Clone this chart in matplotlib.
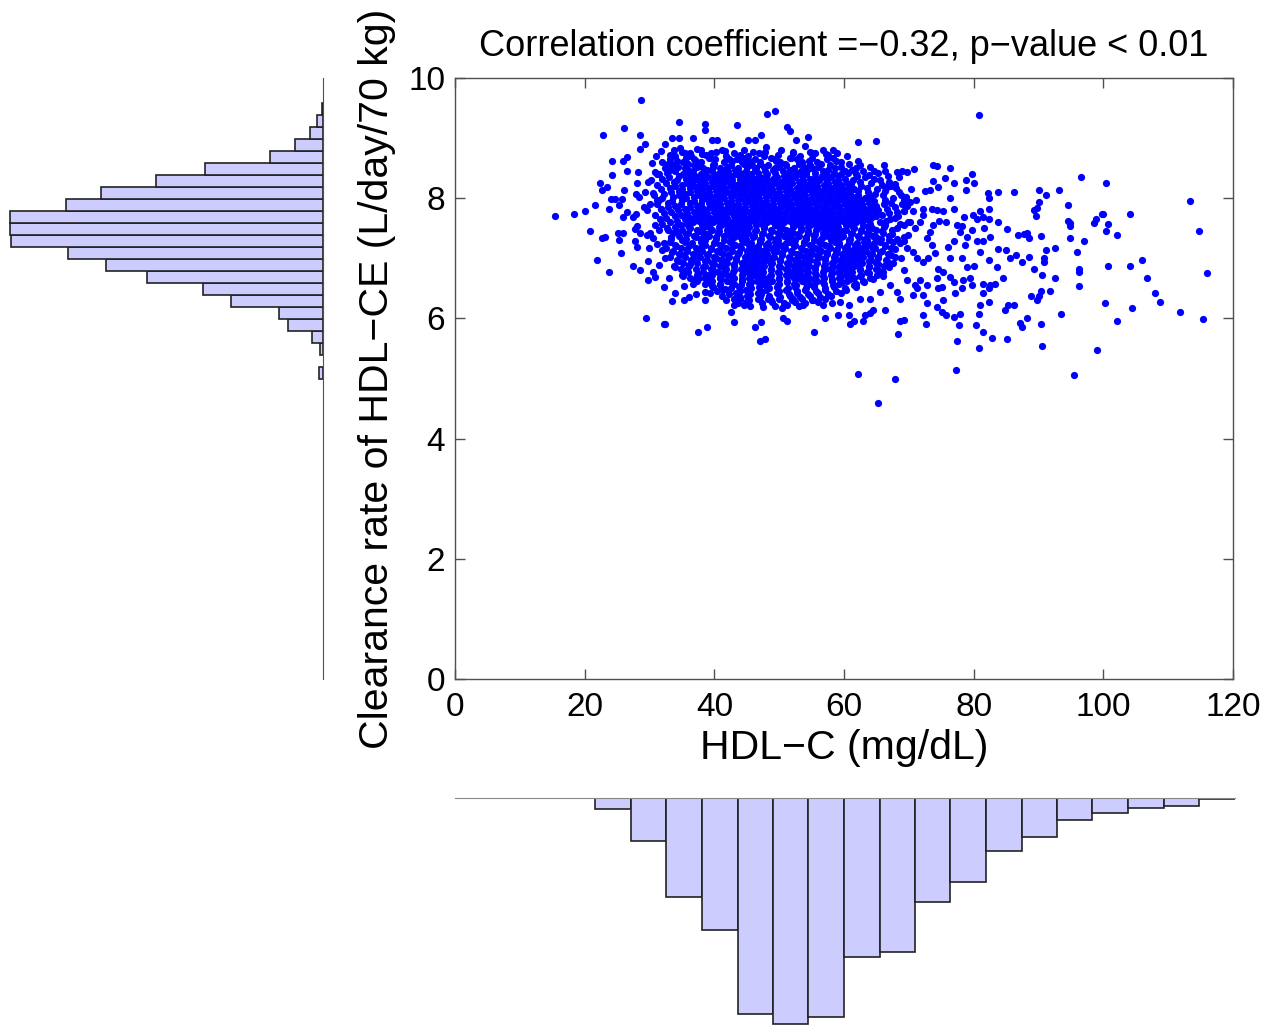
import matplotlib
matplotlib.use('Agg')
import matplotlib.pyplot as plt

plt.rcParams['font.family'] = ['Liberation Sans', 'DejaVu Sans']

# points outside the dense core, read one by one (HDL-C, clearance)
outer_pts = [
    (15.5, 7.71), (18.4, 7.74), (20.0, 7.79), (21.6, 7.88), (23.8, 7.82), (20.8, 7.45), (22.6, 7.34),
    (23.1, 7.36), (21.9, 6.97), (23.8, 6.77), (25.6, 7.08), (25.3, 7.31), (25.1, 7.42), (25.9, 7.42),
    (22.4, 8.25), (22.7, 8.13), (23.4, 8.19), (24.2, 8.39), (24.2, 8.62), (25.9, 8.62), (26.6, 8.68),
    (26.6, 8.45), (26.1, 9.16), (22.9, 9.05), (28.5, 9.05), (29.3, 8.91), (28.5, 8.82), (31.7, 8.79),
    (28.2, 8.44), (28.0, 8.25), (26.1, 8.13), (24.0, 7.99), (24.7, 7.99), (25.8, 7.99), (25.3, 7.89),
    (26.5, 7.77), (25.9, 7.68), (27.4, 7.68), (27.9, 7.74), (27.9, 8.07), (28.4, 8.02), (28.0, 7.54),
    (27.7, 7.48), (27.8, 7.29), (28.0, 7.19), (28.5, 7.42), (27.4, 6.88), (28.5, 6.80), (29.8, 6.95),
    (29.8, 6.64), (29.5, 6.00), (32.2, 5.91), (29.3, 8.11), (29.7, 8.27), (30.2, 8.30), (30.4, 8.59),
    (30.9, 8.44), (31.2, 8.40), (30.6, 8.08), (29.2, 7.86), (30.1, 7.91), (29.6, 7.80), (31.2, 7.97),
    (31.8, 7.82), (30.9, 7.72), (30.8, 7.55), (30.1, 7.42), (29.6, 7.38), (31.5, 7.47), (30.6, 7.33),
    (31.1, 7.23), (29.9, 7.17), (31.9, 7.14), (31.4, 6.89), (30.5, 6.77), (30.8, 6.69), (32.2, 6.52),
    (28.7, 9.64),
    (34.6, 9.26), (38.5, 9.23), (38.5, 9.13), (43.5, 9.22), (48.2, 9.40), (49.4, 9.45), (33.5, 9.00),
    (34.6, 9.00), (36.7, 9.00), (39.6, 8.97), (40.4, 8.97), (32.4, 8.90), (42.5, 8.91), (45.2, 8.97),
    (46.2, 8.97), (47.2, 9.05), (47.9, 8.86), (34.0, 8.71), (35.5, 8.76), (37.3, 8.82), (41.7, 8.79),
    (43.9, 8.71), (42.3, 8.66), (47.8, 8.77), (49.4, 8.65), (38.1, 8.74), (39.2, 8.67), (39.8, 8.55),
    (33.3, 8.57), (34.7, 8.83),
    (32.4, 5.91), (37.5, 5.77), (38.8, 5.85), (43.0, 5.94), (46.2, 5.85), (47.2, 5.94), (47.0, 5.63),
    (47.8, 5.66), (33.5, 6.29), (34.0, 6.42), (35.3, 6.54), (35.3, 6.31), (36.1, 6.36), (37.2, 6.40),
    (38.5, 6.44), (38.5, 6.31), (39.6, 6.54), (41.7, 6.49), (42.5, 6.11), (43.0, 6.22), (43.9, 6.33),
    (44.6, 6.22), (47.2, 6.40), (48.3, 6.33), (47.5, 6.19), (50.4, 6.17), (50.6, 6.00), (33.0, 6.68),
    (36.7, 6.57), (37.7, 6.67), (39.1, 6.73), (40.9, 6.67), (42.7, 6.61), (45.5, 6.57), (48.1, 6.53),
    (51.2, 9.19), (51.7, 9.11), (54.4, 9.02), (52.6, 8.97), (62.1, 8.93), (65.0, 8.96), (54.0, 8.87),
    (55.0, 8.76), (52.2, 8.75), (51.7, 8.67), (57.3, 8.73), (58.3, 8.80), (62.4, 8.55), (61.9, 8.50),
    (60.2, 8.45), (63.8, 8.39), (64.7, 8.46), (66.3, 8.45), (68.1, 8.44), (68.9, 8.45), (67.9, 8.23),
    (68.5, 8.10), (66.7, 8.19), (65.6, 8.30), (69.2, 7.97), (69.2, 7.78),
    (51.2, 5.96), (55.3, 5.77), (57.1, 6.00), (59.1, 6.06), (60.8, 6.06), (61.0, 5.91), (61.5, 5.96),
    (62.9, 5.96), (63.2, 6.06), (64.0, 6.09), (64.5, 6.14), (66.3, 6.14), (68.6, 5.96), (68.4, 5.74),
    (62.1, 5.08), (67.9, 5.00), (65.2, 4.60), (68.6, 6.33), (68.1, 6.44), (67.1, 6.56), (65.6, 6.44),
    (64.0, 6.33), (62.5, 6.33), (60.7, 6.22), (59.4, 6.28), (58.1, 6.25), (56.8, 6.22), (55.0, 6.31),
    (53.7, 6.22), (52.2, 6.33), (51.2, 6.23),
    (80.8, 9.38), (73.7, 8.56), (74.3, 8.54), (76.4, 8.51), (70.8, 8.48), (69.7, 8.43), (75.6, 8.34),
    (76.9, 8.25), (79.8, 8.40), (78.8, 8.30), (80.1, 8.25), (78.8, 8.14), (82.2, 8.08), (82.4, 8.01),
    (83.8, 8.11), (86.2, 8.11), (73.8, 8.28), (74.5, 8.19), (70.3, 8.16), (72.5, 8.12), (73.3, 8.13),
    (76.4, 8.00), (76.9, 7.82), (75.3, 7.79), (74.3, 7.80), (73.5, 7.82), (72.2, 7.82), (70.7, 7.78),
    (69.3, 7.78), (71.1, 7.97), (70.2, 7.94), (69.2, 7.91),
    (78.5, 7.68), (79.9, 7.72), (81.0, 7.78), (81.5, 7.69), (80.5, 7.65), (82.4, 7.82), (82.3, 7.65),
    (83.8, 7.60), (85.2, 7.48), (86.9, 7.38), (87.7, 7.40), (83.8, 7.15), (85.0, 7.14), (85.6, 7.00),
    (86.6, 7.05), (87.4, 6.94), (83.6, 6.86), (82.3, 6.97), (81.0, 7.11), (80.5, 7.28), (81.5, 7.28),
    (82.5, 7.36), (81.6, 7.50), (79.7, 7.47), (78.9, 7.36), (78.2, 7.53), (77.4, 7.55), (77.9, 7.44),
    (78.7, 7.22), (78.2, 7.00), (78.9, 6.86), (80.1, 6.88), (76.9, 7.28), (76.1, 7.19), (76.4, 7.00),
    (75.8, 7.61), (74.7, 7.62), (73.8, 7.55), (73.3, 7.44), (72.8, 7.33), (73.6, 7.22), (74.0, 7.08),
    (73.0, 7.00), (72.2, 6.94), (71.2, 7.00), (70.7, 7.11), (69.7, 7.17), (69.2, 7.28), (69.9, 7.39),
    (70.9, 7.50), (71.7, 7.61), (72.2, 7.72), (70.2, 7.61), (69.2, 7.55),
    (69.2, 6.81), (69.7, 6.64), (70.9, 6.56), (71.7, 6.64), (70.7, 6.39), (72.2, 6.39), (71.2, 6.50),
    (72.8, 6.56), (74.3, 6.67), (74.5, 6.83), (75.3, 6.78), (76.4, 6.69), (76.9, 6.61), (75.1, 6.53),
    (74.5, 6.50), (77.1, 6.42), (78.2, 6.50), (78.4, 6.64), (79.4, 6.68), (79.7, 6.56), (81.5, 6.58),
    (82.5, 6.56), (83.3, 6.57), (84.6, 6.68), (82.3, 6.50), (81.4, 6.42), (81.0, 6.22), (82.3, 6.28),
    (80.8, 6.08), (85.3, 6.22), (86.2, 6.22), (84.8, 6.14), (69.2, 5.97), (72.8, 6.25), (72.2, 6.06),
    (72.7, 5.91), (74.4, 6.19), (75.1, 6.11), (75.8, 6.06), (76.9, 6.02), (77.9, 6.07), (77.8, 5.89),
    (75.3, 6.31), (80.4, 5.89), (81.4, 5.77), (80.8, 5.50), (82.8, 5.68), (85.1, 5.65), (77.4, 5.62),
    (77.2, 5.14), (87.2, 5.92),
    (96.5, 8.36), (100.4, 8.25), (90.1, 8.13), (91.2, 8.05), (93.1, 8.13), (90.1, 7.94), (89.3, 7.80),
    (89.8, 7.83), (89.6, 7.71), (94.6, 7.88), (104.1, 7.74), (99.8, 7.74), (100.0, 7.74), (98.9, 7.65),
    (98.6, 7.59), (100.7, 7.57), (100.4, 7.45), (102.1, 7.39), (94.6, 7.62), (94.9, 7.59), (94.9, 7.53),
    (94.9, 7.34), (97.0, 7.28), (95.9, 7.10), (90.4, 7.37), (88.2, 7.42), (88.5, 7.33), (91.2, 7.14),
    (92.5, 7.17), (88.5, 7.02), (90.9, 7.00), (90.9, 6.94), (89.3, 6.82), (90.6, 6.73), (92.5, 6.68),
    (96.2, 6.82), (96.2, 6.78), (96.2, 6.54), (100.7, 6.88), (104.1, 6.88), (106.0, 6.97), (88.8, 6.37),
    (90.1, 6.37), (90.4, 6.46), (91.7, 6.45), (89.8, 6.31), (100.2, 6.25), (104.4, 6.17), (102.1, 5.96),
    (93.5, 6.08), (88.3, 6.00), (90.4, 5.91), (87.4, 5.85), (90.6, 5.54), (99.1, 5.48), (95.4, 5.05),
    (113.4, 7.96), (114.7, 7.45), (106.8, 6.68), (107.9, 6.42), (108.7, 6.28), (116.0, 6.76),
    (111.8, 6.11), (115.3, 5.99),
]

# dense core, read row by row: clearance -> HDL-C values
core_rows = {
    8.80: [33.8, 37.9, 41.2, 44.6, 50.3, 56.8],
    8.75: [36.2, 39.5, 43.0, 46.9, 55.6, 58.9],
    8.70: [31.0, 36.4, 41.8, 45.2, 47.6, 53.2, 60.5],
    8.65: [33.2, 36.8, 40.1, 43.5, 46.3, 52.7, 57.4],
    8.60: [31.9, 35.1, 38.0, 41.5, 44.2, 47.1, 50.2, 53.5, 55.9, 59.6],
    8.55: [33.6, 36.9, 42.6, 45.8, 48.3, 51.0, 54.8, 57.9, 66.2],
    8.50: [32.4, 35.4, 38.2, 40.9, 43.7, 46.5, 49.4, 52.3, 55.1, 58.6],
    8.45: [34.0, 36.7, 39.6, 42.1, 44.9, 47.8, 50.6, 53.4, 56.7, 62.9],
    8.40: [31.5, 35.2, 37.9, 40.6, 43.3, 45.7, 48.2, 51.5, 54.2, 57.3, 59.5, 61.8],
    8.35: [33.0, 36.4, 39.0, 41.8, 44.4, 47.0, 49.7, 52.4, 55.5, 58.0, 63.2, 68.5],
    8.30: [34.3, 37.5, 40.2, 42.8, 45.5, 48.1, 50.9, 53.6, 56.2, 59.1, 61.4],
    8.25: [32.6, 35.8, 38.6, 41.4, 44.0, 46.8, 49.3, 52.0, 54.7, 57.5, 60.4, 64.2],
    8.20: [33.9, 36.9, 39.7, 42.5, 45.1, 47.7, 50.5, 53.2, 55.9, 58.7, 62.6, 67.3],
    8.15: [31.8, 35.0, 38.1, 40.8, 43.6, 46.2, 48.9, 51.7, 54.4, 57.0, 59.8, 61.5, 65.1],
    8.10: [33.3, 36.3, 39.2, 41.9, 44.6, 47.3, 50.0, 52.8, 55.5, 58.2, 60.9, 63.7],
    8.05: [30.7, 34.6, 37.6, 40.4, 43.1, 45.8, 48.5, 51.3, 54.0, 56.6, 59.4, 62.1, 66.0, 68.8],
    8.00: [32.0, 35.6, 38.7, 41.5, 44.2, 46.9, 49.6, 52.4, 55.1, 57.8, 60.5, 63.3, 67.5],
    7.95: [33.5, 36.8, 39.8, 42.6, 45.3, 48.0, 50.8, 53.5, 56.2, 58.9, 61.7, 64.6],
    7.90: [31.2, 34.9, 38.0, 40.9, 43.7, 46.4, 49.1, 51.9, 54.6, 57.4, 60.1, 62.8, 66.2, 68.9],
    7.85: [32.8, 36.2, 39.3, 42.1, 44.8, 47.5, 50.3, 53.0, 55.8, 58.5, 61.2, 64.1, 67.8],
    7.80: [34.4, 37.6, 40.5, 43.2, 45.9, 48.7, 51.4, 54.2, 56.9, 59.6, 62.4, 65.3],
    7.75: [32.3, 35.8, 38.9, 41.8, 44.5, 47.2, 50.0, 52.7, 55.5, 58.2, 61.0, 63.8, 66.9],
    7.70: [33.9, 37.2, 40.2, 43.0, 45.7, 48.4, 51.1, 53.9, 56.6, 59.3, 62.1, 64.9, 68.3],
    7.65: [31.6, 35.4, 38.5, 41.4, 44.1, 46.8, 49.6, 52.4, 55.1, 57.8, 60.6, 63.4, 67.1],
    7.60: [33.2, 36.7, 39.8, 42.7, 45.4, 48.1, 50.8, 53.6, 56.3, 59.0, 61.8, 65.6, 69.9],
    7.55: [34.8, 38.1, 41.0, 43.8, 46.5, 49.3, 52.1, 54.8, 57.6, 60.3, 63.0, 66.4],
    7.50: [32.7, 36.2, 39.4, 42.3, 45.0, 47.7, 50.5, 53.3, 56.0, 58.7, 61.5, 64.3, 68.2],
    7.45: [34.1, 37.6, 40.7, 43.5, 46.2, 48.9, 51.7, 54.4, 57.1, 59.9, 62.6, 65.8],
    7.40: [35.6, 38.9, 41.9, 44.7, 47.4, 50.1, 52.9, 55.6, 58.4, 61.1, 63.9, 67.4],
    7.35: [33.3, 37.1, 40.3, 43.1, 45.9, 48.6, 51.3, 54.1, 56.8, 59.5, 62.3, 65.0, 69.2],
    7.30: [35.0, 38.5, 41.5, 44.3, 47.0, 49.8, 52.5, 55.3, 58.0, 60.7, 63.6, 66.9],
    7.25: [32.2, 36.6, 39.9, 42.8, 45.6, 48.3, 51.0, 53.8, 56.5, 59.2, 62.0, 64.7, 68.6],
    7.20: [34.1, 38.1, 41.2, 44.0, 46.8, 49.5, 52.3, 55.0, 57.7, 60.4, 63.2, 66.3],
    7.15: [35.8, 39.5, 42.5, 45.3, 48.0, 50.7, 53.5, 56.2, 58.9, 61.6, 64.4, 67.9],
    7.10: [33.4, 37.4, 40.8, 43.8, 46.5, 49.2, 52.0, 54.7, 57.4, 60.2, 62.9, 65.6],
    7.05: [35.2, 38.9, 42.1, 45.0, 47.7, 50.4, 53.2, 55.9, 58.6, 61.3, 64.0, 67.2],
    7.00: [32.4, 36.9, 40.3, 43.4, 46.2, 48.9, 51.6, 54.4, 57.1, 59.8, 62.5, 65.3, 68.8],
    6.95: [34.6, 38.5, 41.7, 44.7, 47.5, 50.2, 52.9, 55.7, 58.4, 61.1, 63.8, 66.7],
    6.90: [36.3, 40.0, 43.1, 46.0, 48.8, 51.5, 54.2, 57.0, 59.7, 62.4, 65.2],
    6.85: [33.9, 38.2, 41.5, 44.5, 47.3, 50.1, 52.8, 55.6, 58.3, 61.0, 63.8, 67.0],
    6.80: [35.7, 39.8, 43.0, 45.9, 48.7, 51.4, 54.2, 56.9, 59.6, 62.4, 65.3],
    6.75: [37.5, 41.3, 44.4, 47.2, 50.0, 52.7, 55.5, 58.2, 61.0, 63.9],
    6.70: [35.1, 39.4, 42.8, 45.8, 48.6, 51.3, 54.1, 56.8, 59.5, 62.5, 66.0],
    6.65: [37.0, 41.1, 44.3, 47.1, 49.9, 52.6, 55.4, 58.1, 61.0, 64.5],
    6.60: [39.0, 42.6, 45.6, 48.4, 51.2, 54.0, 56.7, 59.7, 63.1],
    6.55: [40.9, 44.1, 47.0, 49.8, 52.6, 55.3, 58.3, 61.6],
    6.50: [42.5, 45.6, 48.5, 51.3, 54.1, 57.0, 60.2],
    6.45: [40.4, 44.0, 47.0, 49.9, 52.8, 55.7, 58.8],
    6.40: [42.2, 45.5, 51.5, 54.5, 57.5],
    6.35: [43.9, 47.1, 50.2, 53.2, 56.3],
    6.30: [41.8, 45.4, 48.8, 52.0, 55.2],
    6.25: [43.6, 47.3, 50.8, 54.0],
    6.20: [45.5, 49.4, 53.0],
}

# second pass over the core, rows in between the first ones
core_rows_mid = {
    8.775: [35.0, 40.3, 45.9, 52.1, 54.7],
    8.725: [33.1, 38.7, 44.0, 49.8, 57.5],
    8.675: [35.6, 39.4, 44.8, 48.7, 51.9, 55.0, 58.3],
    8.625: [34.2, 37.1, 42.8, 45.4, 49.5, 54.6, 58.8, 62.2],
    8.575: [32.8, 35.9, 40.0, 44.6, 47.0, 50.9, 53.1, 56.4, 60.7],
    8.525: [34.4, 37.3, 39.8, 42.0, 45.1, 47.6, 50.0, 53.8, 56.0, 59.5, 64.0],
    8.475: [33.1, 35.9, 38.8, 41.4, 43.2, 46.3, 49.0, 51.7, 54.3, 57.6, 61.2],
    8.425: [32.7, 36.1, 38.6, 41.2, 44.0, 46.8, 49.4, 52.6, 55.5, 58.4, 60.6, 65.2],
    8.375: [34.5, 37.0, 40.0, 42.7, 45.2, 47.9, 50.8, 53.5, 56.6, 59.0, 62.0, 66.8],
    8.325: [32.0, 35.6, 38.3, 41.1, 43.9, 46.3, 49.0, 51.6, 54.8, 57.2, 60.2, 64.6],
    8.275: [33.8, 36.6, 39.7, 42.3, 44.8, 47.4, 50.3, 53.0, 55.7, 58.6, 62.5, 67.0],
    8.225: [31.2, 35.0, 37.8, 40.5, 43.4, 46.0, 48.6, 51.3, 54.2, 56.9, 59.6, 61.1, 65.8],
    8.175: [33.2, 36.2, 39.0, 41.7, 44.3, 47.0, 49.9, 52.7, 55.2, 58.0, 60.8, 63.6, 68.0],
    8.125: [34.6, 37.4, 40.2, 42.9, 45.5, 48.3, 51.0, 53.6, 56.3, 59.1, 62.2, 66.4],
    8.075: [32.2, 35.5, 38.4, 41.2, 44.0, 46.6, 49.4, 52.2, 55.0, 57.5, 60.2, 64.8],
    8.025: [33.6, 36.9, 39.6, 42.5, 45.1, 47.9, 50.6, 53.2, 56.0, 58.8, 61.4, 64.0, 69.5],
    7.975: [31.5, 35.0, 38.1, 40.7, 43.6, 46.2, 49.0, 51.5, 54.3, 57.1, 59.9, 62.6, 66.4],
    7.925: [32.9, 36.2, 39.2, 42.0, 44.7, 47.3, 50.1, 52.8, 55.6, 58.2, 61.0, 63.9, 67.3],
    7.875: [34.0, 37.3, 40.2, 43.0, 45.8, 48.4, 51.2, 53.9, 56.7, 59.3, 62.0, 65.0, 69.7],
    7.825: [31.8, 35.4, 38.4, 41.2, 44.0, 46.7, 49.5, 52.1, 54.9, 57.6, 60.4, 63.2, 66.6],
    7.775: [33.3, 36.9, 39.9, 42.6, 45.3, 48.0, 50.9, 53.5, 56.2, 59.0, 61.7, 64.6, 68.1],
    7.725: [34.8, 38.0, 41.0, 43.7, 46.4, 49.2, 52.0, 54.6, 57.4, 60.2, 62.9, 65.9],
    7.675: [32.6, 36.2, 39.3, 42.0, 44.8, 47.6, 50.3, 53.0, 55.8, 58.5, 61.3, 64.1, 67.8],
    7.625: [34.2, 37.6, 40.6, 43.4, 46.1, 48.9, 51.6, 54.3, 57.1, 59.8, 62.7, 66.5],
    7.575: [32.0, 35.8, 39.0, 41.8, 44.6, 47.3, 50.0, 52.8, 55.5, 58.3, 61.0, 64.0, 68.7],
    7.525: [33.9, 36.1, 38.4, 40.7, 43.0, 45.3, 47.6, 49.9, 52.2, 54.5, 56.8, 59.1, 61.4, 63.7, 66.1],
    7.475: [32.8, 35.0, 37.3, 39.6, 41.9, 44.2, 46.5, 48.8, 51.1, 53.4, 55.7, 58.0, 60.3, 62.6, 64.9,
            67.4],
    7.425: [33.7, 36.0, 38.3, 40.6, 42.9, 45.2, 47.5, 49.8, 52.1, 54.4, 56.7, 59.0, 61.3, 63.6, 66.0],
    7.375: [34.6, 36.9, 39.2, 41.5, 43.8, 46.1, 48.4, 50.7, 53.0, 55.3, 57.6, 59.9, 62.2, 64.5, 67.0],
    7.325: [33.3, 35.7, 38.0, 40.3, 42.6, 44.9, 47.2, 49.5, 51.8, 54.1, 56.4, 58.7, 61.0, 63.3, 65.7,
            68.2],
    7.275: [33.2, 35.4, 37.9, 40.1, 42.4, 44.8, 47.0, 49.3, 51.7, 53.9, 56.2, 58.6, 60.8, 63.1, 65.5,
            67.6],
    7.225: [34.0, 36.3, 38.5, 40.9, 43.2, 45.4, 47.9, 50.1, 52.4, 54.8, 57.0, 59.3, 61.7, 63.9, 66.4],
    7.175: [32.6, 34.9, 37.1, 39.5, 41.8, 44.1, 46.3, 48.7, 50.9, 53.3, 55.6, 57.8, 60.2, 62.5, 64.8,
            67.2],
    7.125: [33.6, 35.8, 38.1, 40.4, 42.7, 45.0, 47.3, 49.6, 51.8, 54.2, 56.5, 58.8, 61.1, 63.4, 65.9],
    7.075: [34.5, 36.7, 39.0, 41.3, 43.6, 45.9, 48.2, 50.5, 52.7, 55.1, 57.4, 59.7, 62.0, 64.3, 66.8],
    7.025: [33.1, 35.5, 37.8, 40.0, 42.3, 44.7, 46.9, 49.2, 51.5, 53.8, 56.1, 58.4, 60.7, 63.0, 65.3,
            67.9],
    6.975: [34.2, 36.4, 38.8, 41.0, 43.3, 45.7, 47.9, 50.2, 52.5, 54.8, 57.1, 59.4, 61.7, 64.1, 66.5],
    6.925: [35.1, 37.4, 39.7, 42.0, 44.3, 46.6, 48.9, 51.2, 53.5, 55.8, 58.1, 60.4, 62.7, 65.0, 67.6],
    6.875: [33.8, 36.1, 38.5, 40.8, 43.1, 45.4, 47.7, 50.0, 52.3, 54.6, 56.9, 59.2, 61.5, 63.8, 66.2],
    6.825: [34.9, 37.2, 39.5, 41.8, 44.1, 46.4, 48.7, 51.0, 53.3, 55.6, 57.9, 60.2, 62.5, 64.9],
    6.775: [36.0, 38.3, 40.6, 42.9, 45.2, 47.5, 49.8, 52.1, 54.4, 56.7, 59.0, 61.3, 63.6, 66.0],
    6.725: [35.0, 37.3, 39.6, 41.9, 44.2, 46.5, 48.8, 51.1, 53.4, 55.7, 58.0, 60.3, 62.6, 65.1],
    6.675: [36.2, 38.5, 40.8, 43.1, 45.4, 47.7, 50.0, 52.3, 54.6, 56.9, 59.2, 61.5, 64.0],
    6.625: [37.4, 39.7, 42.0, 44.3, 46.6, 48.9, 51.2, 53.5, 55.8, 58.1, 60.4, 62.9],
    6.575: [38.5, 40.8, 43.1, 45.4, 47.7, 50.0, 52.3, 54.6, 56.9, 59.2, 61.8],
    6.525: [39.8, 43.8, 46.9, 49.7, 52.5, 55.4, 58.4, 61.8],
    6.475: [41.4, 44.9, 48.0, 51.0, 54.0, 57.0, 60.3],
    6.425: [39.4, 43.3, 46.7, 49.7, 52.8, 56.0, 59.6],
    6.375: [41.2, 45.0, 48.4, 51.6, 54.8, 58.0],
    6.325: [43.0, 46.8, 50.0, 53.5, 57.0],
    6.275: [44.9, 48.9, 52.4, 56.0],
}

# marginal histograms, bar lengths
hdl_edges = [21.6, 27.1, 32.6, 38.1, 43.6, 49.1, 54.5, 60.0, 65.5, 71.0, 76.4, 81.9,
             87.4, 92.8, 98.3, 103.8, 109.3, 114.8, 120.3]
hdl_counts = [11, 43, 99, 132, 216, 226, 219, 159, 154, 104, 84, 53, 39, 22, 15, 10, 8, 1.3]

clear_edges = [4.99, 5.19, 5.39, 5.59, 5.79, 5.99, 6.19, 6.39, 6.59, 6.79, 6.99, 7.19,
               7.39, 7.59, 7.79, 7.99, 8.19, 8.39, 8.59, 8.79, 8.99, 9.19, 9.39, 9.59]
clear_counts = [4, 0, 3, 11, 35, 44, 92, 120, 176, 217, 255, 312, 313, 313, 257, 222,
                167, 118, 53, 28, 13, 5.7, 1.3]

xs = [p[0] for p in outer_pts]
ys = [p[1] for p in outer_pts]
for rows in (core_rows, core_rows_mid):
    for yv, row in rows.items():
        xs += row
        ys += [yv] * len(row)

W, H = 1271, 1027


def box(l, t, r, b):
    return [l / W, 1 - b / H, (r - l) / W, (b - t) / H]


fig = plt.figure(figsize=(W / 100, H / 100), dpi=100)
ax = fig.add_axes(box(455, 78, 1233, 679))
axl = fig.add_axes(box(0, 78, 323, 679))
axb = fig.add_axes(box(455, 798, 1235, 1027))

spine_col = '#505050'
ax.plot(xs, ys, 'o', color='#0000ff', ms=5.2, mew=0)
ax.set_xlim(0, 120)
ax.set_ylim(0, 10)
ax.set_xticks(range(0, 121, 20))
ax.set_yticks(range(0, 11, 2))
ax.tick_params(direction='in', length=7, width=1, top=True, right=True,
               labelsize=24, color=spine_col)
ax.tick_params(axis='x', pad=9)
ax.tick_params(axis='y', pad=7)
for s in ax.spines.values():
    s.set_color(spine_col)
    s.set_linewidth(1.0)
ax.set_title('Correlation coefficient =\u22120.32, p\u2212value < 0.01', fontsize=26, pad=16)
ax.set_xlabel('HDL\u2212C (mg/dL)', fontsize=29.5)
ax.set_ylabel('Clearance rate of HDL\u2212CE (L/day/70 kg)', fontsize=29.5)
ax.xaxis.set_label_coords(0.5, -0.083)
ax.yaxis.set_label_coords(-0.076, 0.5)

bar_face = '#ccccff'
bar_edge = '#222222'

# left histogram grows to the left
for i, c in enumerate(clear_counts):
    if c > 0:
        axl.barh(clear_edges[i], c, height=clear_edges[i + 1] - clear_edges[i], align='edge',
                 color=bar_face, edgecolor=bar_edge, linewidth=1.2)
axl.set_ylim(0, 10)
axl.set_xlim(323, 0)
axl.set_xticks([])
axl.set_yticks([])
for name, s in axl.spines.items():
    s.set_visible(name == 'right')
axl.spines['right'].set_color(spine_col)

# bottom histogram grows downward
for i, c in enumerate(hdl_counts):
    axb.bar(hdl_edges[i], c, width=hdl_edges[i + 1] - hdl_edges[i], align='edge',
            color=bar_face, edgecolor=bar_edge, linewidth=1.2)
axb.set_xlim(0, 120.3)
axb.set_ylim(229, 0)
axb.set_xticks([])
axb.set_yticks([])
for name, s in axb.spines.items():
    s.set_visible(name == 'top')
axb.spines['top'].set_color('#888888')

fig.savefig('out.png', dpi=100)
